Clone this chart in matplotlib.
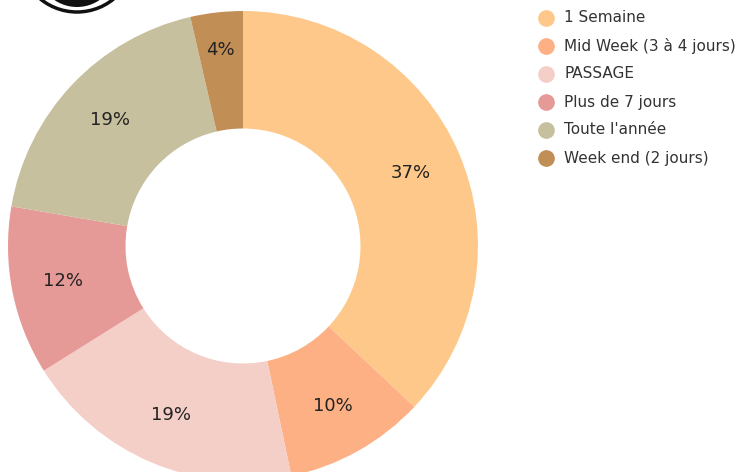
import matplotlib
matplotlib.use("Agg")
import numpy as np
import matplotlib.pyplot as plt
from matplotlib.patches import Circle

# Data
labels = ["1 Semaine", "Mid Week (3 à 4 jours)", "PASSAGE",
          "Plus de 7 jours", "Toute l'année", "Week end (2 jours)"]
shares = [37.0, 9.7, 19.4, 11.6, 18.7, 3.6]
colors = ["#FEC88A", "#FDB084", "#F4CFC8", "#E69A98", "#C6C09E", "#C18E56"]

W, H = 739, 472
fig = plt.figure(figsize=(W / 100, H / 100), dpi=100)

# donut axes (pixel box: x 8..478, y 11..481 from top)
ax = fig.add_axes([8 / W, (H - 481) / H, 470 / W, 470 / H])
wedges, texts, autotexts = ax.pie(
    shares, colors=colors, startangle=90, counterclock=False,
    autopct="%.0f%%", pctdistance=0.78, radius=1,
    wedgeprops=dict(width=0.5, linewidth=0),
    textprops=dict(fontsize=13, color="#222222"))
for w in wedges:
    w.set_clip_on(False)

# small slice label sits nearer the outer edge
w = wedges[-1]
ang = np.deg2rad((w.theta1 + w.theta2) / 2)
autotexts[-1].set_position((0.84 * np.cos(ang), 0.84 * np.sin(ang)))

ax.set_xlim(-1, 1)
ax.set_ylim(-1, 1)
ax.set_aspect("equal")
ax.axis("off")

# overlay in pixel coordinates for legend and logo
ov = fig.add_axes([0, 0, 1, 1], facecolor="none")
ov.set_xlim(0, W)
ov.set_ylim(H, 0)
ov.axis("off")

for i, (lab, col) in enumerate(zip(labels, colors)):
    y = 18 + i * 28
    ov.plot(546, y, "o", color=col, markersize=11, clip_on=False)
    ov.text(564, y, lab, fontsize=11, color="#333333", va="center", ha="left")

# partial logo at top-left
ov.add_patch(Circle((77, -46), 58, fill=False, edgecolor="#111111", linewidth=2.5, clip_on=False))
ov.add_patch(Circle((77, -33), 40, facecolor="#111111", edgecolor="none", clip_on=False))

fig.savefig("out.png", dpi=100)
